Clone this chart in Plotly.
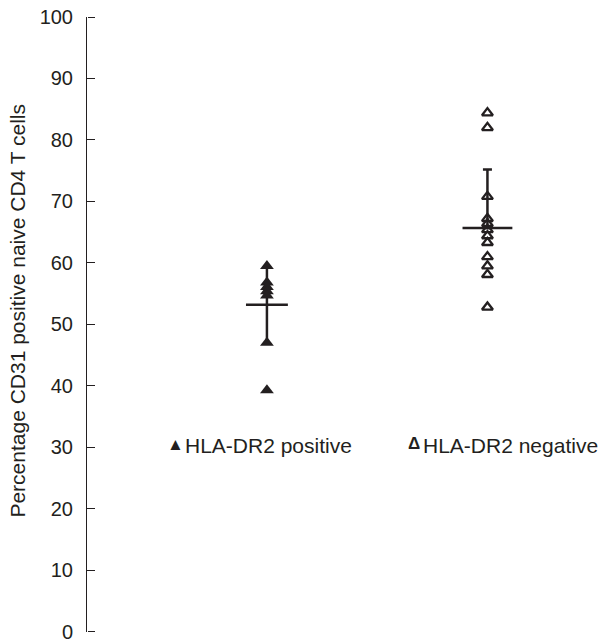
import plotly.graph_objects as go

# ---- data ----
groups = ["HLA-DR2 positive", "HLA-DR2 negative"]
group_x = [1, 2]
pos_values = [59.5, 56.8, 56.1, 55.4, 54.7, 47.0, 39.3]
neg_values = [84.4, 82.0, 70.8, 67.2, 66.4, 65.4, 64.4, 63.3, 61.0, 59.5, 58.1, 52.8]
pos_mean = 53.2
pos_sd_minus = 6.0
neg_mean = 65.7
neg_sd_plus = 9.5
mean_half_width = [0.095, 0.113]
y_ticks = [0, 10, 20, 30, 40, 50, 60, 70, 80, 90, 100]
y_title = "Percentage CD31 positive naive CD4 T cells"

FONT = "Liberation Sans, Arial, Helvetica, sans-serif"
INK = "#231f20"
Y_RANGE = [-0.03, 100]

fig = go.Figure()

# error bars (one-sided, as drawn)
fig.add_trace(go.Scatter(
    x=[group_x[0]], y=[pos_mean], mode="markers",
    marker=dict(size=1, color="rgba(0,0,0,0)"),
    error_y=dict(type="data", symmetric=False, array=[0], arrayminus=[pos_sd_minus],
                 color=INK, thickness=2.5, width=0),
    showlegend=False, hoverinfo="skip"))
fig.add_trace(go.Scatter(
    x=[group_x[1]], y=[neg_mean], mode="markers",
    marker=dict(size=1, color="rgba(0,0,0,0)"),
    error_y=dict(type="data", symmetric=False, array=[neg_sd_plus], arrayminus=[0],
                 color=INK, thickness=2.5, width=4.5),
    showlegend=False, hoverinfo="skip"))
# vertical connector for positive group up to the top point
fig.add_trace(go.Scatter(
    x=[group_x[0], group_x[0]], y=[pos_mean, max(pos_values)], mode="lines",
    line=dict(color=INK, width=2.5), showlegend=False, hoverinfo="skip"))

# mean lines
for gx, m, hw in zip(group_x, [pos_mean, neg_mean], mean_half_width):
    fig.add_trace(go.Scatter(
        x=[gx - hw, gx + hw], y=[m, m], mode="lines",
        line=dict(color=INK, width=2.5), showlegend=False, hoverinfo="skip"))

# points
fig.add_trace(go.Scatter(
    x=[group_x[0]] * len(pos_values), y=pos_values, mode="markers",
    marker=dict(symbol="triangle-up", size=12, color=INK, line=dict(width=0)),
    name=groups[0], showlegend=False))
fig.add_trace(go.Scatter(
    x=[group_x[1]] * len(neg_values), y=neg_values, mode="markers",
    marker=dict(symbol="triangle-up-open", size=9.5, color=INK, line=dict(width=2.3, color=INK)),
    name=groups[1], showlegend=False))

# invisible trace bound to the tick-only axis so it is drawn
fig.add_trace(go.Scatter(
    x=[group_x[0]], y=[pos_mean], yaxis="y2", mode="markers",
    marker=dict(size=1, color="rgba(0,0,0,0)"), showlegend=False, hoverinfo="skip"))

# legend-like labels
fig.add_annotation(x=0.172, y=0.305, xref="paper", yref="paper", text="▲",
                   showarrow=False, xanchor="center", yanchor="middle",
                   font=dict(family=FONT, size=17, color=INK))
fig.add_annotation(x=0.187, y=0.304, xref="paper", yref="paper", text=groups[0],
                   showarrow=False, xanchor="left", yanchor="middle",
                   font=dict(family=FONT, size=21, color=INK))
fig.add_annotation(x=0.637, y=0.306, xref="paper", yref="paper", text="<b>Δ</b>",
                   showarrow=False, xanchor="center", yanchor="middle",
                   font=dict(family=FONT, size=17, color=INK))
fig.add_annotation(x=0.650, y=0.304, xref="paper", yref="paper", text=groups[1],
                   showarrow=False, xanchor="left", yanchor="middle",
                   font=dict(family=FONT, size=21, color=INK))

# y-axis title
fig.add_annotation(x=-0.135, y=0.522, xref="paper", yref="paper", text=y_title,
                   textangle=-90, showarrow=False, xanchor="center", yanchor="middle",
                   font=dict(family=FONT, size=21, color=INK))

fig.update_layout(
    width=601, height=642,
    margin=dict(l=87, r=0, t=17, b=10, autoexpand=False),
    paper_bgcolor="white", plot_bgcolor="white",
    font=dict(family=FONT, size=20, color=INK),
    showlegend=False,
    xaxis=dict(range=[0.184, 2.515], visible=False, showgrid=False, zeroline=False,
               automargin=False),
    yaxis=dict(range=Y_RANGE, tickvals=y_ticks, ticks="inside", ticklen=7,
               tickwidth=1.2, tickcolor=INK, showline=True, linecolor=INK, linewidth=1,
               showgrid=False, zeroline=False, ticklabelstandoff=9, automargin=False,
               ticklabeloverflow="allow",
               tickfont=dict(family=FONT, size=20, color=INK)),
    yaxis2=dict(range=Y_RANGE, tickvals=y_ticks, overlaying="y", side="right",
                anchor="free", position=0, ticks="outside", ticklen=7, tickwidth=1.2,
                tickcolor=INK, showticklabels=False, showline=False, showgrid=False,
                zeroline=False, automargin=False),
)

fig.write_html("out.html", config={"displayModeBar": False},
               post_script="document.body.style.margin='0';document.body.style.overflow='hidden';")
